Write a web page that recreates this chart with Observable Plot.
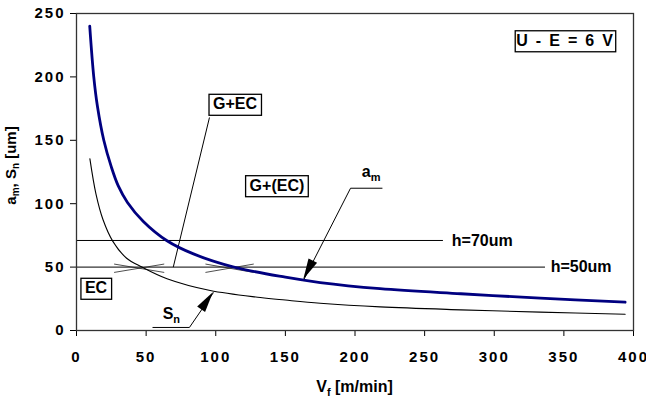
<!DOCTYPE html>
<html><head><meta charset="utf-8">
<script src="https://cdn.jsdelivr.net/npm/d3@7"></script>
<script src="https://cdn.jsdelivr.net/npm/@observablehq/plot@0.6"></script>
<style>
body{margin:0;background:#fff;}
#chart svg{display:block;}
g[aria-label="x-axis tick label"] text, g[aria-label="y-axis tick label"] text{letter-spacing:2px;}
</style></head><body><div id="chart"></div>
<script>
// a_m curve (blue)
const amX = [9.5, 12.4, 15, 19.6, 25, 30, 36.6, 48, 65, 84, 113, 150, 175, 218, 276, 333, 394];
const amY = [240, 200, 177, 150, 129, 114, 101, 86, 70.8, 60.4, 50, 42, 37.8, 33, 29, 25.5, 22.3];
// S_n curve (black)
const snX = [9.6, 14, 19, 26, 36, 47, 65, 96, 132, 150, 175, 218, 276, 333, 394];
const snY = [135.5, 107.5, 87.5, 70.5, 57, 50, 40.8, 31.5, 26, 24, 21.5, 18.6, 16.3, 14.5, 12.8];
// ticks
const xTicks = [0, 50, 100, 150, 200, 250, 300, 350, 400];
const yTicks = [0, 50, 100, 150, 200, 250];
// h levels
const hLevel = [71, 50];
const hEnd = [263.5, 336.8];
const hText = ["h=70um", "h=50um"];
const hTextX = [269.5, 340.5];
// crossing marks (segments)
const crossX1 = [27, 27, 92.6, 92.6];
const crossY1 = [52.4, 45.8, 52.4, 45.8];
const crossX2 = [63, 63, 127.3, 127.3];
const crossY2 = [45.8, 52.4, 45.8, 52.4];
// leader lines (segments)
const leadX1 = [69.5, 196.8, 196.8, 54.6, 81.1];
const leadY1 = [50, 112.2, 112.2, 2.4, 2.4];
const leadX2 = [95.5, 219.7, 163.2, 81.1, 98.4];
const leadY2 = [168, 112.2, 40, 2.4, 30];
// arrow heads: tail -> tip
const arrTailX = [196.8, 81.1];
const arrTailY = [112.2, 2.4];
const arrTipX = [163.2, 98.4];
const arrTipY = [40, 30];
// annotation labels
const labText = ["G+EC", "G+(EC)", "EC", "U - E = 6 V", "a", "S"];
const labSub = ["", "", "", "", "m", "n"];
const labX = [114.2, 144.3, 14.4, 351.5, 212, 68.5];
const labY = [178.6, 114.4, 33.5, 228.7, 125, 13.4];
const labBox = [true, true, true, true, false, false];

const W = 646, H = 398;
const am = amX.map((x, i) => ({x, y: amY[i]}));
const sn = snX.map((x, i) => ({x, y: snY[i]}));
const hl = hLevel.map((y, i) => ({y, x2: hEnd[i], t: hText[i], tx: hTextX[i]}));
const cross = crossX1.map((x, i) => ({x1: x, y1: crossY1[i], x2: crossX2[i], y2: crossY2[i]}));
const lead = leadX1.map((x, i) => ({x1: x, y1: leadY1[i], x2: leadX2[i], y2: leadY2[i]}));

const font = "'Liberation Sans', Arial, sans-serif";
const plot = Plot.plot({
  width: W, height: H,
  marginLeft: 76, marginRight: 13, marginTop: 13, marginBottom: 68,
  style: {fontFamily: font, fontSize: "15px", fontWeight: "bold", color: "#000", background: "#fff"},
  x: {domain: [0, 400], ticks: xTicks, tickSize: 6, tickPadding: 15, label: null},
  y: {domain: [0, 250], ticks: yTicks, tickSize: 6, tickPadding: 5, label: null},
  marks: [
    Plot.ruleY(hl, {y: "y", x1: 0, x2: "x2", stroke: "#000", strokeWidth: 1}),
    Plot.text(hl, {x: "tx", y: "y", text: "t", textAnchor: "start", fontSize: 16, fontWeight: "bold"}),
    Plot.link(cross, {x1: "x1", y1: "y1", x2: "x2", y2: "y2", stroke: "#222", strokeWidth: 0.8}),
    Plot.link(lead, {x1: "x1", y1: "y1", x2: "x2", y2: "y2", stroke: "#000", strokeWidth: 1}),
    Plot.line(sn, {x: "x", y: "y", curve: "catmull-rom", stroke: "#000", strokeWidth: 1.1}),
    Plot.line(am, {x: "x", y: "y", curve: "catmull-rom", stroke: "#000080", strokeWidth: 2.8}),
    Plot.frame({stroke: "#333", strokeWidth: 1.3})
  ]
});
document.getElementById("chart").appendChild(plot);

const sx = plot.scale("x"), sy = plot.scale("y");
const svg = d3.select(plot);
const g = svg.append("g").attr("font-family", font).attr("font-weight", "bold").attr("font-size", 16);

// arrow heads
arrTipX.forEach((tx, i) => {
  const px = sx.apply(tx), py = sy.apply(arrTipY[i]);
  const qx = sx.apply(arrTailX[i]), qy = sy.apply(arrTailY[i]);
  const d = Math.hypot(qx - px, qy - py);
  const ux = (qx - px) / d, uy = (qy - py) / d;
  const nx = -uy, ny = ux, L = 21, w = 4.8;
  const pts = [[px, py], [px + ux * L + nx * w, py + uy * L + ny * w], [px + ux * L - nx * w, py + uy * L - ny * w]];
  g.append("path").attr("d", "M" + pts.map(p => p.join(",")).join("L") + "Z").attr("fill", "#000");
});

// labels
labText.forEach((t, i) => {
  const el = g.append("text")
    .attr("x", sx.apply(labX[i])).attr("y", sy.apply(labY[i]))
    .attr("dy", "0.36em").attr("text-anchor", "middle")
    .attr("letter-spacing", i === 3 ? "1.8px" : null);
  el.append("tspan").text(t);
  if (labSub[i]) el.append("tspan").attr("font-size", 11).attr("dy", 4).text(labSub[i]);
  if (labBox[i]) {
    const b = el.node().getBBox();
    const padX = i === 3 ? 1 : 4, padY = 2;
    g.insert("rect", () => el.node())
      .attr("x", b.x - padX).attr("y", b.y - padY + 1)
      .attr("width", b.width + 2 * padX).attr("height", b.height + 2 * padY)
      .attr("fill", "#fff").attr("stroke", "#000").attr("stroke-width", 1.3);
  }
});

// axis titles
const yl = g.append("text").attr("font-size", 15)
  .attr("transform", "translate(" + 16 + "," + (sy.apply(125) - 6) + ") rotate(-90)")
  .attr("text-anchor", "middle");
yl.append("tspan").text("a");
yl.append("tspan").attr("font-size", 10).attr("dy", 3).text("m");
yl.append("tspan").attr("dy", -3).text(", S");
yl.append("tspan").attr("font-size", 10).attr("dy", 3).text("n");
yl.append("tspan").attr("dy", -3).text(" [um]");

const xl = g.append("text").attr("font-size", 16)
  .attr("x", sx.apply(200)).attr("y", 392).attr("text-anchor", "middle");
xl.append("tspan").text("V");
xl.append("tspan").attr("font-size", 11).attr("dy", 4).text("f");
xl.append("tspan").attr("dy", -4).text(" [m/min]");
</script></body></html>
